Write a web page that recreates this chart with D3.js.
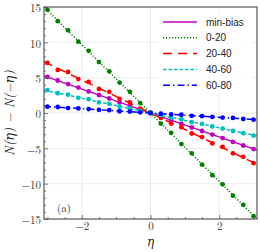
<!DOCTYPE html>
<html>
<head>
<meta charset="utf-8">
<script src="https://cdn.jsdelivr.net/npm/d3@7"></script>
<style>
  body { margin: 0; background: #fff; }
  svg { display: block; }
</style>
</head>
<body>
<div id="chart"></div>
<script>
// data
const eta = [-3.0, -2.7, -2.4, -2.1, -1.8, -1.5, -1.2, -0.9, -0.6, -0.3, 0,
             0.3, 0.6, 0.9, 1.2, 1.5, 1.8, 2.1, 2.4, 2.7, 3.0];
const minBias = [5.1, 4.6, 4.1, 3.6, 3.05, 2.55, 2.05, 1.5, 1.0, 0.5, 0,
                 -0.5, -1.0, -1.55, -2.05, -2.55, -3.05, -3.55, -4.1, -4.6, -5.1];
const c0_20 = [14.6, 13.0, 11.7, 10.1, 8.8, 7.2, 5.9, 4.3, 3.0, 1.4, 0,
               -1.5, -2.8, -4.4, -5.7, -7.3, -8.8, -10.1, -11.7, -13.0, -14.6];
const c20_40 = [7.1, 6.1, 5.8, 4.8, 4.4, 3.4, 3.0, 2.0, 1.5, 0.6, 0,
                -0.7, -1.5, -2.0, -2.9, -3.4, -4.3, -4.8, -5.7, -6.2, -7.1];
const c40_60 = [3.25, 2.8, 2.6, 2.15, 1.95, 1.5, 1.3, 0.9, 0.65, 0.3, 0,
                -0.3, -0.65, -0.9, -1.3, -1.55, -1.9, -2.2, -2.55, -2.85, -3.2];
const c60_80 = [0.9, 0.85, 0.7, 0.65, 0.55, 0.45, 0.4, 0.25, 0.2, 0.1, 0,
                -0.1, -0.2, -0.25, -0.4, -0.45, -0.55, -0.65, -0.7, -0.85, -0.95];

// straight fit lines, value at the left and right frame edge
const fitEta = [-3.1, 3.1];
const fitMinBias = [5.25, -5.25];
const fit0_20 = [15.0, -15.0];
const fit20_40 = [7.25, -7.25];
const fit40_60 = [3.25, -3.25];
const fit60_80 = [0.95, -0.95];

const labels = ["min-bias", "0-20", "20-40", "40-60", "60-80"];
const colors = ["#bf00bf", "#008000", "#ff0000", "#00bfbf", "#0000ff"];
const dashes = ["none", "1.2,1.8", "9,6", "3.5,2", "7,3,1.5,3"];

const series = [
  { name: labels[0], pts: minBias, fit: fitMinBias },
  { name: labels[1], pts: c0_20, fit: fit0_20 },
  { name: labels[2], pts: c20_40, fit: fit20_40 },
  { name: labels[3], pts: c40_60, fit: fit40_60 },
  { name: labels[4], pts: c60_80, fit: fit60_80 }
];

const width = 260, height = 252;
const marginLeft = 44, marginRight = 3, marginTop = 7, marginBottom = 33;

const svg = d3.select("#chart").append("svg")
    .attr("width", width)
    .attr("height", height);

const x = d3.scaleLinear().domain([-3.1, 3.1]).range([marginLeft, width - marginRight]);
const y = d3.scaleLinear().domain([-15, 15]).range([height - marginBottom, marginTop]);

const serif = "'Latin Modern Roman', 'CMU Serif', 'DejaVu Serif', 'Liberation Serif', serif";

// grid
const grid = svg.append("g").attr("stroke", "#e6e6e6").attr("stroke-width", 0.8);
grid.selectAll("line.gx")
    .data([-2, 0, 2])
    .enter().append("line")
    .attr("x1", d => x(d)).attr("x2", d => x(d))
    .attr("y1", y(15)).attr("y2", y(-15));
grid.selectAll("line.gy")
    .data([-10, -5, 0, 5, 10])
    .enter().append("line")
    .attr("x1", x(-3.1)).attr("x2", x(3.1))
    .attr("y1", d => y(d)).attr("y2", d => y(d));

// series
const lineGen = d3.line().x(d => x(d[0])).y(d => y(d[1]));
const gSeries = svg.append("g");
series.forEach((s, i) => {
  gSeries.append("path")
      .attr("d", lineGen(fitEta.map((e, j) => [e, s.fit[j]])))
      .attr("fill", "none")
      .attr("stroke", colors[i])
      .attr("stroke-width", 1.5)
      .attr("stroke-dasharray", dashes[i]);
  gSeries.append("g").selectAll("circle")
      .data(eta.map((e, j) => [e, s.pts[j]]))
      .enter().append("circle")
      .attr("cx", d => x(d[0]))
      .attr("cy", d => y(d[1]))
      .attr("r", 2.4)
      .attr("fill", colors[i]);
});

// axes (ticks inward)
const axisColor = "#555";
const fmt = d => d < 0 ? "\u2212" + Math.abs(d) : d;
const xAxis = svg.append("g")
    .attr("transform", `translate(0,${y(-15)})`)
    .call(d3.axisBottom(x).tickValues([-2, 0, 2]).tickSize(-4).tickPadding(3).tickFormat(fmt));
const xMinor = svg.append("g")
    .attr("transform", `translate(0,${y(-15)})`)
    .call(d3.axisBottom(x).tickValues([-3, -2.5, -1.5, -1, -0.5, 0.5, 1, 1.5, 2.5, 3]).tickSize(-2).tickFormat(""));
const yAxis = svg.append("g")
    .attr("transform", `translate(${x(-3.1)},0)`)
    .call(d3.axisLeft(y).tickValues([-15, -10, -5, 0, 5, 10, 15]).tickSize(-4).tickPadding(3).tickFormat(fmt));
const yMinor = svg.append("g")
    .attr("transform", `translate(${x(-3.1)},0)`)
    .call(d3.axisLeft(y).tickValues(d3.range(-14, 15).filter(v => v % 5 !== 0)).tickSize(-2).tickFormat(""));

[xAxis, xMinor, yAxis, yMinor].forEach(a => {
  a.select(".domain").remove();
  a.selectAll("line").attr("stroke", axisColor).attr("stroke-width", 0.8);
  a.selectAll("text").attr("font-family", serif).attr("font-size", 11).attr("fill", "#333");
});
yAxis.selectAll("text").attr("dy", "0.45em");

// frame
svg.append("rect")
    .attr("x", x(-3.1)).attr("y", y(15))
    .attr("width", x(3.1) - x(-3.1)).attr("height", y(-15) - y(15))
    .attr("fill", "none")
    .attr("stroke", axisColor)
    .attr("stroke-width", 1.2);

// legend
const legend = svg.append("g");
legend.append("rect")
    .attr("x", 157).attr("y", 12).attr("width", 96).attr("height", 82)
    .attr("fill", "#fff").attr("fill-opacity", 0.8);
labels.forEach((name, i) => {
  const ly = 22 + i * 15.8;
  legend.append("line")
      .attr("x1", 163).attr("x2", 197)
      .attr("y1", ly).attr("y2", ly)
      .attr("stroke", colors[i])
      .attr("stroke-width", 1.5)
      .attr("stroke-dasharray", dashes[i]);
  legend.append("text")
      .attr("x", 206).attr("y", ly)
      .attr("dy", "0.35em")
      .attr("font-family", "'Liberation Sans', Arial, sans-serif")
      .attr("font-size", 10)
      .attr("fill", "#222")
      .text(name);
});

// panel tag
svg.append("text")
    .attr("x", 57).attr("y", 212)
    .attr("font-family", serif)
    .attr("font-size", 11)
    .attr("fill", "#222")
    .text("(a)");

// axis titles
svg.append("text")
    .attr("x", x(0)).attr("y", 246)
    .attr("text-anchor", "middle")
    .attr("font-family", serif)
    .attr("font-style", "italic")
    .attr("font-size", 12)
    .attr("fill", "#222")
    .text("\u03b7");

svg.append("text")
    .attr("transform", `translate(14,${y(0)}) rotate(-90)`)
    .attr("text-anchor", "middle")
    .attr("font-family", serif)
    .attr("font-style", "italic")
    .attr("font-size", 13)
    .attr("fill", "#222")
    .text("N(\u03b7) \u2212 N(\u2212\u03b7)");
</script>
</body>
</html>
